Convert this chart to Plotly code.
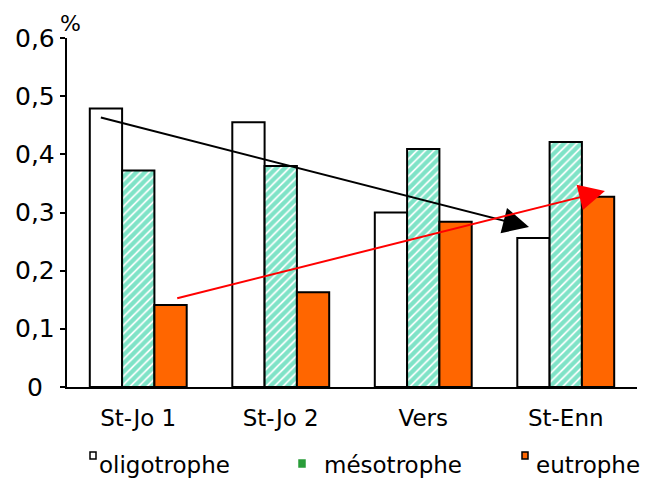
import plotly.graph_objects as go

# Sites and share of each trophic class
sites = ["St-Jo 1", "St-Jo 2", "Vers", "St-Enn"]
oligotrophe = [0.479, 0.455, 0.300, 0.256]
mesotrophe = [0.372, 0.380, 0.409, 0.421]
eutrophe = [0.141, 0.163, 0.284, 0.327]

series_names = ["oligotrophe", "mésotrophe", "eutrophe"]
y_ticks = [0, 0.1, 0.2, 0.3, 0.4, 0.5, 0.6]
y_tick_text = ["0", "0,1", "0,2", "0,3", "0,4", "0,5", "0,6"]

FONT = "'DejaVu Sans', sans-serif"
HATCH = "#00c890"
ORANGE = "#ff6600"

fig = go.Figure()
fig.add_bar(x=sites, y=oligotrophe, name=series_names[0],
            marker=dict(color="white", line=dict(color="black", width=2)))
fig.add_bar(x=sites, y=mesotrophe, name=series_names[1],
            marker=dict(color="white", line=dict(color="black", width=2),
                        pattern=dict(shape="/", fgcolor=HATCH, bgcolor="white",
                                     size=6, solidity=0.7)))
fig.add_bar(x=sites, y=eutrophe, name=series_names[2],
            marker=dict(color=ORANGE, line=dict(color="black", width=2)))

# Trend arrows: decline of oligotrophic, rise of eutrophic taxa
fig.add_annotation(x=2.742, y=0.275, ax=-0.273, ay=0.464, xref="x", yref="y",
                   axref="x", ayref="y", text="", showarrow=True,
                   arrowhead=2, arrowsize=2.6, arrowwidth=2, arrowcolor="black",
                   standoff=0, startstandoff=0)
fig.add_annotation(x=3.275, y=0.337, ax=0.263, ay=0.152, xref="x", yref="y",
                   axref="x", ayref="y", text="", showarrow=True,
                   arrowhead=2, arrowsize=2.6, arrowwidth=2, arrowcolor="#ff0000",
                   standoff=0, startstandoff=0)

# Y tick labels centred left of the axis
for v, t in zip(y_ticks, y_tick_text):
    fig.add_annotation(x=0, y=v, xref="paper", yref="y", text=t, showarrow=False,
                       xanchor="center", yanchor="middle", xshift=-32,
                       font=dict(family=FONT, size=25, color="black"))
fig.add_annotation(x=0, y=0.6, xref="paper", yref="y", text="%", showarrow=False,
                   xanchor="left", yanchor="bottom", xshift=-9, yshift=0,
                   font=dict(family=FONT, size=22, color="black"))

# Legend drawn below the axis
legend_items = [
    (90, 452, "white", series_names[0], 97),
    (299, 460, "#2a9d3a", series_names[1], 322),
    (522, 452, ORANGE, series_names[2], 534),
]
W, H = 645, 479
PH = H - 38 - 92
for sx, sy, col, label, tx in legend_items:
    fig.add_shape(type="rect", xref="paper", yref="paper",
                  x0=(sx - 67) / 570, x1=(sx + 6 - 67) / 570,
                  y0=(H - 92 - (sy + 7)) / PH,
                  y1=(H - 92 - sy) / PH,
                  line=dict(color="black" if col != "#2a9d3a" else col, width=1.5),
                  fillcolor=col)
    fig.add_annotation(x=(tx - 67) / 570, y=(H - 92 - 465) / PH,
                       xref="paper", yref="paper", text=label, showarrow=False,
                       xanchor="left", yanchor="middle",
                       font=dict(family=FONT, size=23, color="black"))

fig.update_layout(
    width=W, height=H,
    margin=dict(l=67, r=8, t=38, b=92),
    paper_bgcolor="white", plot_bgcolor="white",
    barmode="group", bargap=0.32, bargroupgap=0,
    showlegend=False,
    font=dict(family=FONT, size=22, color="black"),
)
fig.update_xaxes(showline=True, linecolor="black", linewidth=2, ticks="",
                 showgrid=False, tickfont=dict(family=FONT, size=23, color="black"),
                 ticklabelstandoff=9, range=[-0.5, 3.5])
fig.update_yaxes(range=[0, 0.6], tickvals=y_ticks, ticktext=[""] * len(y_ticks),
                 showline=True, linecolor="black", linewidth=2, ticks="outside",
                 ticklen=5, tickcolor="black", tickwidth=1.5, showgrid=False,
                 zeroline=False)

fig.write_html("out.html")
